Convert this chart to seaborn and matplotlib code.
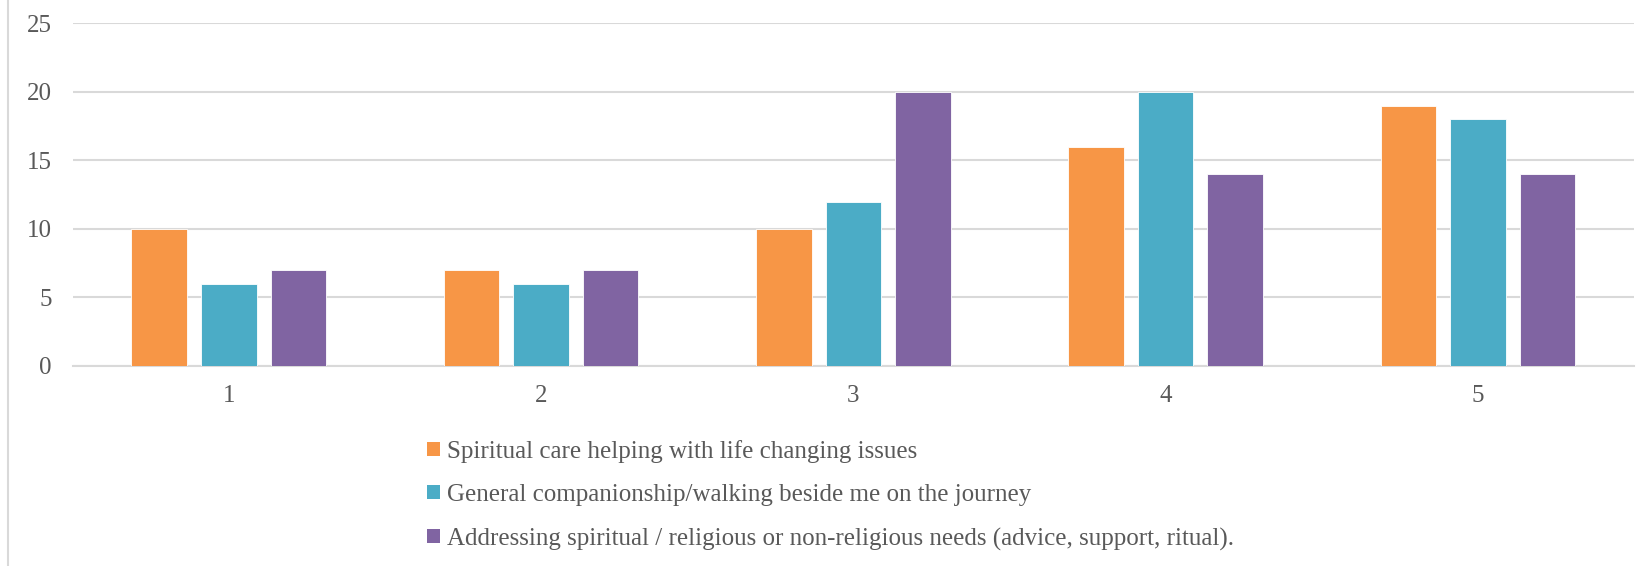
import matplotlib
matplotlib.use("Agg")
import matplotlib.pyplot as plt
import seaborn as sns
import pandas as pd
from matplotlib.lines import Line2D

categories = ["1", "2", "3", "4", "5"]
series_names = [
    "Spiritual care helping with life changing issues",
    "General companionship/walking beside me on the journey",
    "Addressing spiritual / religious or non-religious needs (advice, support, ritual).",
]
spiritual_care = [10, 7, 10, 16, 19]
companionship = [6, 6, 12, 20, 18]
addressing_needs = [7, 7, 20, 14, 14]
colors = ["#F79646", "#4BACC6", "#8064A2"]
yticks = [0, 5, 10, 15, 20, 25]

rows = []
for name, vals in zip(series_names, [spiritual_care, companionship, addressing_needs]):
    for c, v in zip(categories, vals):
        rows.append({"cat": c, "series": name, "value": v})
df = pd.DataFrame(rows)

sns.set_style("white")
plt.rcParams["font.family"] = ["Liberation Serif", "DejaVu Serif"]
text_color = "#595959"

fig = plt.figure(figsize=(16.36, 5.66), dpi=100)
ax = fig.add_axes([72.7 / 1636, 1 - 366 / 566, (1634 - 72.7) / 1636, (366 - 23.3) / 566])

sns.barplot(data=df, x="cat", y="value", hue="series", palette=colors,
            order=categories, hue_order=series_names, saturation=1,
            width=0.668, gap=0.2, ax=ax, legend=False,
            edgecolor="white", linewidth=0.6, zorder=3)

ax.set_ylim(0, 25)
ax.set_yticks(yticks)
ax.set_xlim(-0.5, 4.5)
ax.yaxis.grid(True, color="#D9D9D9", linewidth=1.5, zorder=0)
ax.set_axisbelow(True)
for s in ["top", "right", "left"]:
    ax.spines[s].set_visible(False)
ax.spines["bottom"].set_color("#D9D9D9")
ax.spines["bottom"].set_linewidth(1.5)
ax.set_xlabel("")
ax.set_ylabel("")
ax.tick_params(axis="y", length=0, pad=15, labelsize=18, labelcolor=text_color)
ax.tick_params(axis="x", length=0, pad=14, labelsize=18, labelcolor=text_color)

handles = [plt.Rectangle((0, 0), 1, 1, facecolor=c, edgecolor="none") for c in colors]
leg = fig.legend(handles, series_names, loc="upper left",
                 bbox_to_anchor=(427 / 1636, 1 - 440 / 566),
                 frameon=False, fontsize=18, labelcolor=text_color,
                 handlelength=0.5, handleheight=0.5, handletextpad=0.3,
                 labelspacing=0.85, borderaxespad=0, borderpad=0)

fig.add_artist(Line2D([7.5 / 1636, 7.5 / 1636], [0, 1], color="#D9D9D9", linewidth=1.5,
                      transform=fig.transFigure))

fig.savefig("out.png", dpi=100)
